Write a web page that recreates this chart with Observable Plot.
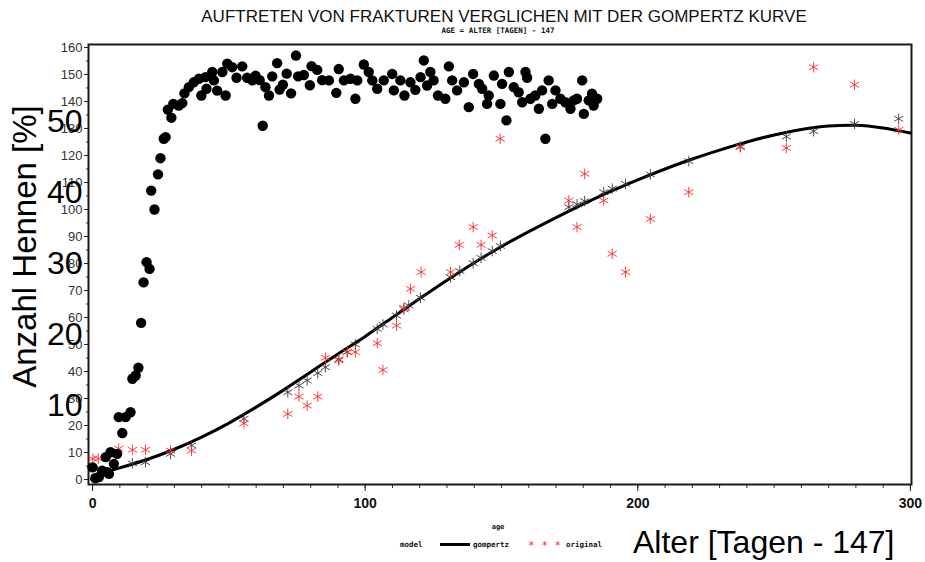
<!DOCTYPE html>
<html><head><meta charset="utf-8">
<script src="https://cdn.jsdelivr.net/npm/d3@7"></script>
<script src="https://cdn.jsdelivr.net/npm/@observablehq/plot@0.6"></script>
<style>
body{margin:0;background:#fff;}
#wrap{position:relative;width:925px;height:562px;overflow:hidden;}
#legend{position:absolute;left:0;top:0;pointer-events:none;}
</style></head><body><div id="wrap"></div>
<script>
// ---- texts
const titleText = "AUFTRETEN VON FRAKTUREN VERGLICHEN MIT DER GOMPERTZ KURVE";
const subtitleText = "AGE = ALTER [TAGEN] - 147";
const xLabelText = "Alter [Tagen - 147]";
const yLabelText = "Anzahl Hennen [%]";
const legendTitle = "age";
const legendKey = "model";
const legendNames = ["gompertz", "original"];

// ---- ticks
const xTicks = [0, 100, 200, 300];
const yTicks = [0, 10, 20, 30, 40, 50, 60, 70, 80, 90, 100, 110, 120, 130, 140, 150, 160];
const pctTicks = [10, 20, 30, 40, 50];
const pctToCount = 2.63;   // overlay percent axis: count = pctOffset + pctToCount * pct
const pctOffset = 1.1;

// ---- black dots (fractures)
const fractureAge = [0,1,2.3,3.5,4.8,5.4,6,6.6,7.8,9,9.6,10.9,12.1,13.9,14.6,15.8,16.8,17.8,18.7,19.8,20.9,21.5,22.7,24,24.9,26.1,26.8,27.6,28.9,29.6,31.6,32.9,33.7,35.3,37.1,39,39.9,41.4,41.8,43.9,44.5,45.7,47.6,48.8,49.4,51.2,52.8,54.9,56.7,58.6,59.8,61.3,62.4,63.4,64.7,65.9,67.7,68.6,69.8,71.2,72.8,74.6,75.4,77.5,79.7,80.3,82.4,84.2,86.7,89.4,90.3,92.2,94.6,96.4,97.1,99.5,101.3,102.6,104.4,106.8,109.9,110.5,112.9,114.4,116.6,118.4,120.3,121.5,122.7,123.9,125.1,126.7,129.4,130.7,131.9,133.7,136.2,138,139.6,141.7,142.9,144.7,145.3,147.2,149.6,150.2,151.8,152.7,154.5,156.3,157.6,158.8,159.4,160.6,162.4,163.7,164.9,166.1,167.3,168.6,169.8,171.6,173.4,175.3,176.5,177.7,179.6,180.2,182,183.2,183.8,185.1];
const fractureCount = [4.5,0.4,0.9,3.3,8.3,2.7,2.1,10.1,5.8,9.5,23.1,17.2,23.1,24.9,37.3,38.5,41.4,58,73,80.5,78,107,100,113,119,126.2,126.8,137,134,139.1,138.5,139.4,143,145.3,147.1,148.4,142.2,149,144.7,150.9,147.8,144,150.9,142.2,154,152.7,148.8,153,148.8,147.8,149.5,147.9,131,145.3,142.2,149.3,154.2,144.4,146.2,150.3,143,157,149.3,149.8,146,153.1,151.7,147.9,147.8,143.2,152,147.8,148.4,141,147.8,153.7,150.9,147.8,144.7,147.8,150.2,144.1,147.8,142.2,147.1,144.3,149,155.2,145.9,150.9,147.8,142.2,141,153,147.8,144.1,147.1,137.9,150.2,146.5,144.7,139.1,142.2,149.6,139.1,146.5,133,150.9,145.3,143.4,139.7,150.9,148.8,141,142.2,137.3,144.1,126.2,147.8,139.1,144.1,141,139.7,137.3,140.4,141,147.8,135.4,140.4,142.9,138.5,141];

// ---- gompertz curve (model line)
const gompertzAge = [0,10,20,30,40,50,60,70,80,90,100,110,120,130,140,150,160,170,180,190,200,210,220,230,240,250,260,270,280,290,300];
const gompertzValue = [1.5,4.3,7.4,11.2,15.7,20.9,26.8,33.1,39.8,46.5,53,60,67,73.8,80.3,86.3,91.8,97,102,106.7,111,115,118.7,122,125,127.6,129.6,130.9,131.2,130.2,128.3];

// ---- black asterisks (model at observed ages)
const modelAge = [14.6,19.4,28.6,36.3,55.5,71.6,75.7,78.7,82.6,85.4,90.3,93.4,96.4,104.4,106.5,111.5,114.2,116,120.3,131.3,134.7,139.6,142.5,146.6,149.6,174.7,177.7,180.5,187.5,190.6,195.5,204.6,218.7,237.6,254.5,264.5,279.5,295.7];
const modelValue = [6,6.4,9.5,12.6,22.5,32.3,34.8,36.7,39.4,41.6,44.5,47.2,50,55.8,57.4,60.7,63,64.4,67.3,74.9,77.2,80.1,82.1,84.6,86.5,100.9,101.9,103.1,106.4,107.7,109.5,113,117.9,123.3,127,129,131.7,133.6];

// ---- red asterisks (original)
const originalAge = [0.1,2.1,9.6,14.6,19.4,28.6,36.3,55.5,71.6,75.7,78.7,82.6,85.4,90.3,93.4,96.4,104.4,106.5,111.5,114.2,116.6,120.5,131.3,134.5,139.6,142.5,146.6,149.5,174.7,177.7,180.5,187.5,190.6,195.5,204.6,218.7,237.6,254.5,264.5,279.5,295.7];
const originalValue = [7.7,7.7,11.4,11,11,10.7,10.7,20.8,24.3,30.7,27.4,30.7,45.1,44.1,47.2,47.2,50.5,40.6,57,63.6,70.6,76.8,76.8,86.9,93.5,86.9,90.4,126.2,103.3,93.5,113.2,103.3,83.6,76.8,96.5,106.4,123.1,122.8,152.7,146.2,129.5];

const zip = (xs, ys) => xs.map((x, i) => ({x, y: ys[i]}));
const fractures = zip(fractureAge, fractureCount);
const gompertz = zip(gompertzAge, gompertzValue);
const model = zip(modelAge, modelValue);
const original = zip(originalAge, originalValue);

const redStar = "#ff2b2b";
const font = "'Liberation Sans', Arial, sans-serif";
const mono = "'DejaVu Sans Mono', monospace";

const chart = Plot.plot({
  width: 925, height: 562,
  marginLeft: 88, marginRight: 14, marginTop: 44, marginBottom: 78,
  style: {fontFamily: font, background: "white", color: "#111"},
  x: {domain: [-1.5, 300.4]},
  y: {domain: [-1.85, 161.1]},
  marks: [
    Plot.axisX(d3.range(0, 301, 10), {tickSize: 4, fill: "none", label: null, stroke: "#333"}),
    Plot.axisX(xTicks, {tickSize: 7, tickPadding: 7, fontSize: 14, fontWeight: "bold", label: null, stroke: "#222"}),
    Plot.axisY(d3.range(0, 161, 5), {tickSize: 2, fill: "none", label: null, stroke: "#333"}),
    Plot.axisY(yTicks, {tickSize: 4, tickPadding: 2, fontSize: 13, label: null, stroke: "#222", fill: "#333"}),
    Plot.frame({stroke: "#1a1a1a", strokeWidth: 2}),
    Plot.line(gompertz, {x: "x", y: "y", curve: "catmull-rom", stroke: "black", strokeWidth: 3}),
    Plot.dot(model, {x: "x", y: "y", symbol: "asterisk", r: 5, stroke: "#3a3a3a", strokeWidth: 0.9}),
    Plot.dot(original, {x: "x", y: "y", symbol: "asterisk", r: 5, stroke: redStar, strokeWidth: 0.9}),
    Plot.dot(fractures, {x: "x", y: "y", r: 5.2, fill: "black", stroke: null}),
    Plot.text(pctTicks, {y: d => pctOffset + pctToCount * d, text: d => String(d), frameAnchor: "left", textAnchor: "end", lineAnchor: "middle", dx: -6, fontSize: 32, fill: "black"}),
    Plot.text([yLabelText], {frameAnchor: "left", textAnchor: "middle", lineAnchor: "middle", rotate: -90, dx: -63, dy: -18, fontSize: 33, fill: "black"}),
    Plot.text([xLabelText], {frameAnchor: "bottom-right", textAnchor: "end", lineAnchor: "middle", dx: -17, dy: 58, fontSize: 32, fill: "black"}),
    Plot.text([titleText], {frameAnchor: "top", lineAnchor: "middle", dx: 4, dy: -28, fontSize: 17, fill: "#111"}),
    Plot.text([subtitleText], {frameAnchor: "top", lineAnchor: "middle", dx: -2, dy: -14, fontSize: 7.5, fontWeight: "bold", fontFamily: mono, fill: "#111"})
  ]
});
document.getElementById("wrap").appendChild(chart);

// ---- legend (SAS-style, below the axis)
const leg = d3.select("#wrap").append("svg").attr("id", "legend").attr("width", 925).attr("height", 562);
leg.append("text").attr("x", 498).attr("y", 529).attr("text-anchor", "middle")
  .style("font", "bold 7px " + mono).attr("fill", "#111").text(legendTitle);
const row = leg.append("g").style("font", "bold 7.5px " + mono).attr("fill", "#111");
row.append("text").attr("x", 400).attr("y", 547).text(legendKey);
row.append("line").attr("x1", 440).attr("x2", 470).attr("y1", 544.5).attr("y2", 544.5).attr("stroke", "black").attr("stroke-width", 3);
row.append("text").attr("x", 473).attr("y", 547).text(legendNames[0]);
row.append("text").attr("x", 528).attr("y", 549).attr("fill", redStar).style("font", "11px " + mono).text("* * *");
row.append("text").attr("x", 566).attr("y", 547).text(legendNames[1]);
</script>
</body></html>
